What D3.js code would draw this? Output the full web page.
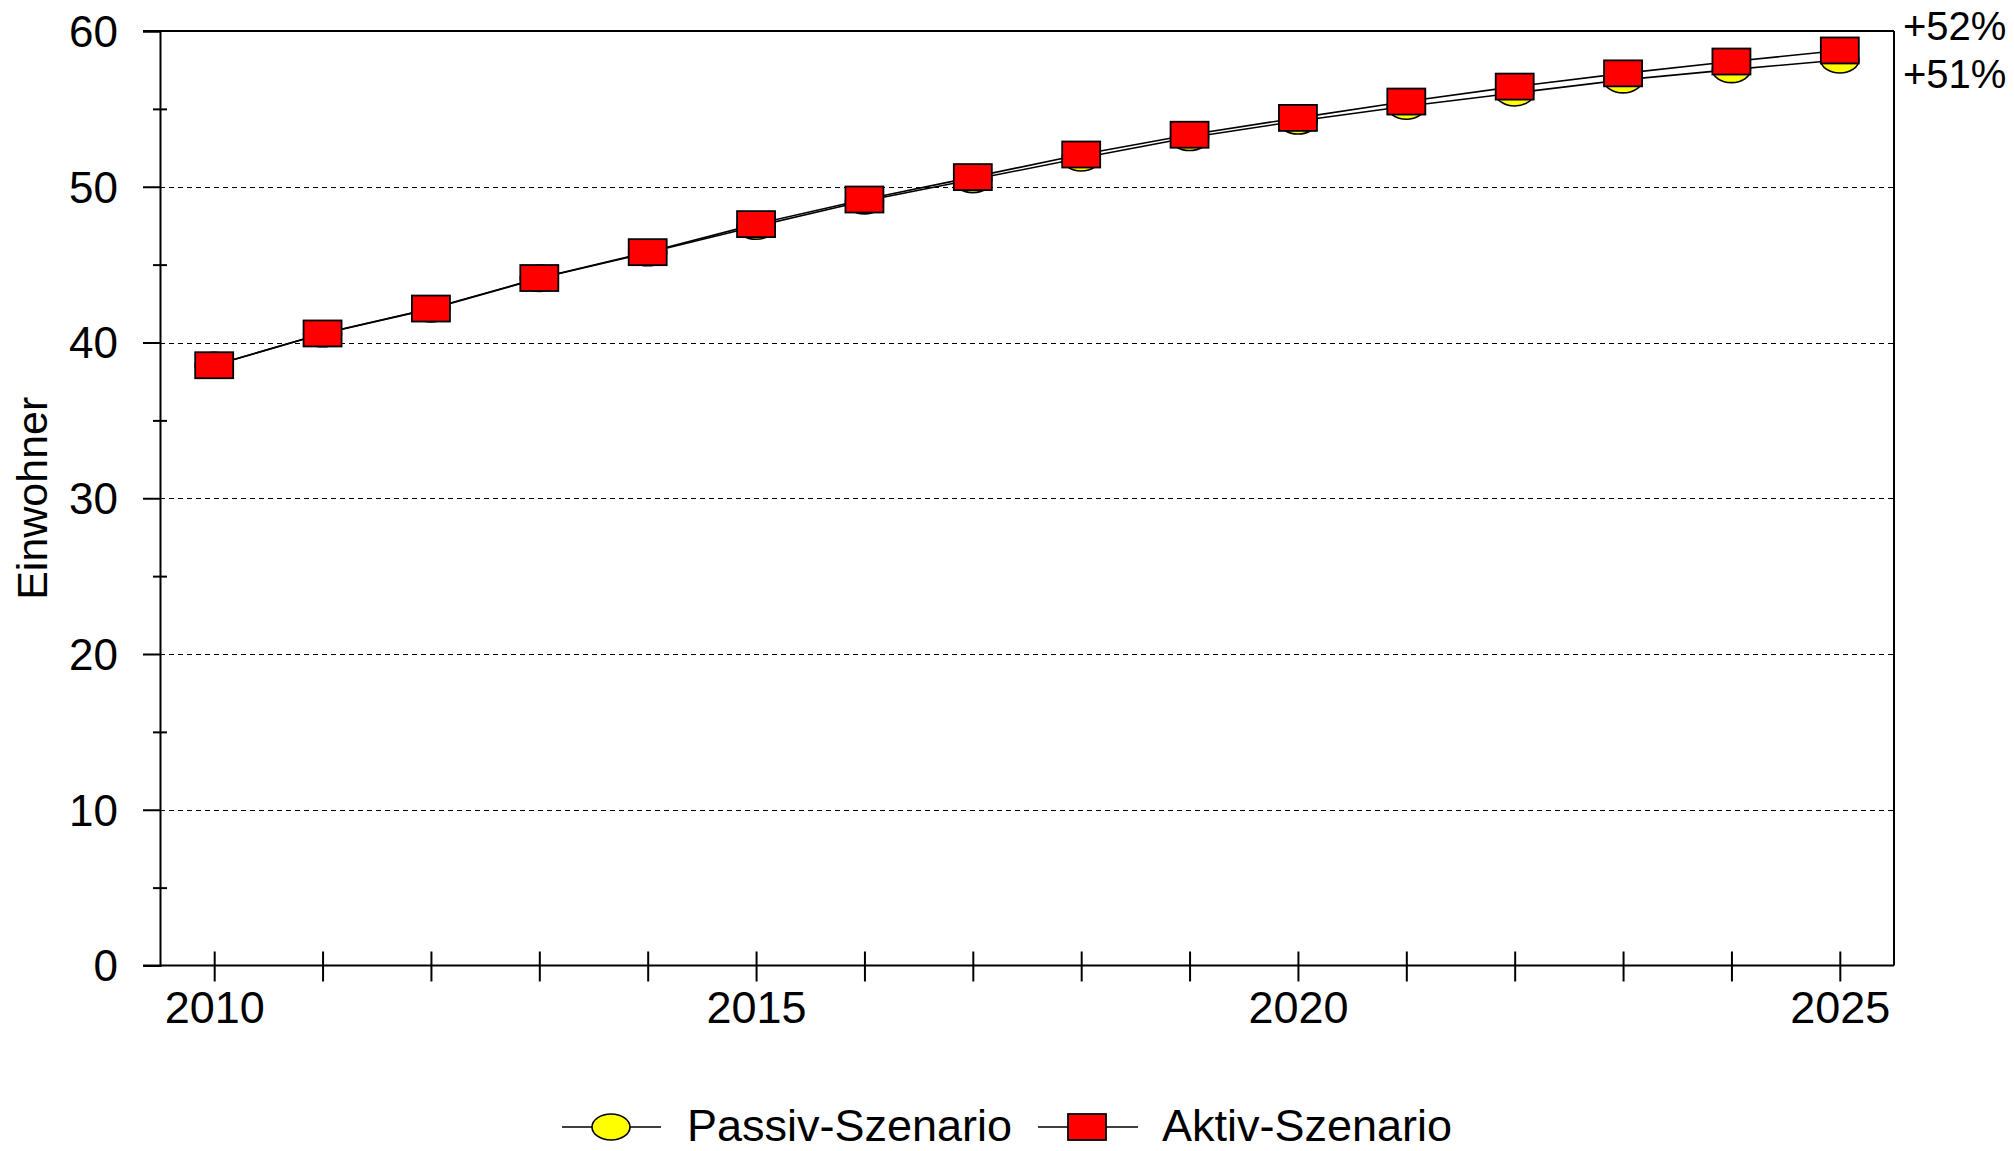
<!DOCTYPE html>
<html>
<head>
<meta charset="utf-8">
<script src="https://cdn.jsdelivr.net/npm/d3@7"></script>
<style>
  html, body { margin: 0; padding: 0; background: #fff; }
  svg { display: block; font-family: "Liberation Sans", Arial, sans-serif; }
</style>
</head>
<body>
<svg id="chart" width="2014" height="1151"></svg>
<script>
// ---- data ----
const years = [2010, 2011, 2012, 2013, 2014, 2015, 2016, 2017, 2018, 2019, 2020, 2021, 2022, 2023, 2024, 2025];
const passiv = [38.54, 40.56, 42.16, 44.12, 45.76, 47.46, 49.09, 50.46, 51.85, 53.16, 54.22, 55.17, 56.02, 56.86, 57.52, 58.14];
const aktiv  = [38.54, 40.58, 42.18, 44.14, 45.80, 47.60, 49.18, 50.62, 52.07, 53.34, 54.42, 55.47, 56.43, 57.28, 58.04, 58.75];
const seriesNames = ["Passiv-Szenario", "Aktiv-Szenario"];
const yTicks = [0, 10, 20, 30, 40, 50, 60];
const yMinorTicks = [5, 15, 25, 35, 45, 55];
const xTickLabels = [2010, 2015, 2020, 2025];
const yTitle = "Einwohner";

// ---- layout ----
const svg = d3.select("#chart");
svg.append("rect").attr("width", 2014).attr("height", 1151).attr("fill", "#fff");

const pLeft = 160, pRight = 1894, pTop = 31, pBottom = 965.5;
const x = d3.scaleLinear().domain([2009.5, 2025.5]).range([pLeft, pRight]);
const y = d3.scaleLinear().domain([0, 60]).range([pBottom, pTop]);

// grid lines
svg.append("g").selectAll("line")
  .data(yTicks.filter(v => v > 0 && v < 60))
  .join("line")
  .attr("x1", pLeft).attr("x2", pRight)
  .attr("y1", d => Math.round(y(d)) + 0.5).attr("y2", d => Math.round(y(d)) + 0.5)
  .attr("stroke", "#000").attr("stroke-width", 1.2)
  .attr("stroke-dasharray", "5,4");

// frame top and right
svg.append("line").attr("x1", 143).attr("x2", pRight).attr("y1", pTop).attr("y2", pTop)
  .attr("stroke", "#000").attr("stroke-width", 2);
svg.append("line").attr("x1", pRight).attr("x2", pRight).attr("y1", pTop).attr("y2", pBottom)
  .attr("stroke", "#000").attr("stroke-width", 2);

// y axis (major)
const yAxis = svg.append("g").attr("transform", `translate(${pLeft},0)`)
  .call(d3.axisLeft(y).tickValues(yTicks).tickSize(17).tickPadding(25).tickFormat(d3.format("d")));
yAxis.select(".domain").attr("stroke", "#000").attr("stroke-width", 2);
yAxis.selectAll(".tick line").attr("stroke", "#000").attr("stroke-width", 2);
yAxis.selectAll(".tick text").attr("font-size", 44).attr("fill", "#000").attr("dy", "0.35em")
  .attr("font-family", "Liberation Sans, Arial, sans-serif");

// y axis minor ticks
const yMinor = svg.append("g").attr("transform", `translate(${pLeft},0)`)
  .call(d3.axisLeft(y).tickValues(yMinorTicks).tickSize(7).tickFormat(""));
yMinor.select(".domain").remove();
yMinor.selectAll(".tick line").attr("x2", -7).attr("x1", 7).attr("stroke", "#000").attr("stroke-width", 2);

// x axis
const xAxis = svg.append("g").attr("transform", `translate(0,${pBottom})`)
  .call(d3.axisBottom(x).tickValues(years).tickSize(16).tickPadding(10)
    .tickFormat(d => xTickLabels.includes(d) ? String(d) : ""));
xAxis.select(".domain").attr("d", `M143,0H${pRight}`).attr("stroke", "#000").attr("stroke-width", 2);
xAxis.selectAll(".tick line").attr("y1", -14).attr("stroke", "#000").attr("stroke-width", 2);
xAxis.selectAll(".tick text").attr("font-size", 45).attr("fill", "#000").attr("y", 26)
  .attr("font-family", "Liberation Sans, Arial, sans-serif");

// y title
svg.append("text")
  .attr("transform", `translate(47,${(pTop + pBottom) / 2}) rotate(-90)`)
  .attr("text-anchor", "middle")
  .attr("font-size", 43).attr("fill", "#000")
  .text(yTitle);

// lines
const line = d3.line().x((d, i) => x(years[i])).y(d => y(d));
[passiv, aktiv].forEach(s => {
  svg.append("path").datum(s).attr("d", line)
    .attr("fill", "none").attr("stroke", "#000").attr("stroke-width", 1.6);
});

// markers
const mw = 38, mh = 26;
svg.append("g").selectAll("ellipse").data(passiv).join("ellipse")
  .attr("cx", (d, i) => x(years[i])).attr("cy", d => y(d))
  .attr("rx", mw / 2).attr("ry", mh / 2)
  .attr("fill", "#ffff00").attr("stroke", "#000").attr("stroke-width", 1.6);
svg.append("g").selectAll("rect").data(aktiv).join("rect")
  .attr("x", (d, i) => x(years[i]) - mw / 2).attr("y", d => y(d) - mh / 2)
  .attr("width", mw).attr("height", mh)
  .attr("fill", "#ff0000").attr("stroke", "#000").attr("stroke-width", 1.8);

// end annotations
const pct = s => "+" + Math.round((s[s.length - 1] / s[0] - 1) * 100) + "%";
svg.append("text").attr("x", 1903).attr("y", 40).attr("font-size", 40).attr("fill", "#000").text(pct(aktiv));
svg.append("text").attr("x", 1903).attr("y", 88).attr("font-size", 40).attr("fill", "#000").text(pct(passiv));

// legend
const ly = 1127;
const lg = svg.append("g");
// passiv
lg.append("line").attr("x1", 562).attr("x2", 661).attr("y1", ly).attr("y2", ly).attr("stroke", "#000").attr("stroke-width", 1.6);
lg.append("ellipse").attr("cx", 611).attr("cy", ly).attr("rx", mw / 2).attr("ry", mh / 2)
  .attr("fill", "#ffff00").attr("stroke", "#000").attr("stroke-width", 1.6);
lg.append("text").attr("x", 687).attr("y", 1141).attr("font-size", 45).attr("fill", "#000").text(seriesNames[0]);
// aktiv
lg.append("line").attr("x1", 1038).attr("x2", 1138).attr("y1", ly).attr("y2", ly).attr("stroke", "#000").attr("stroke-width", 1.6);
lg.append("rect").attr("x", 1087 - mw / 2).attr("y", ly - mh / 2).attr("width", mw).attr("height", mh)
  .attr("fill", "#ff0000").attr("stroke", "#000").attr("stroke-width", 1.8);
lg.append("text").attr("x", 1162).attr("y", 1141).attr("font-size", 45).attr("fill", "#000").text(seriesNames[1]);
</script>
</body>
</html>
